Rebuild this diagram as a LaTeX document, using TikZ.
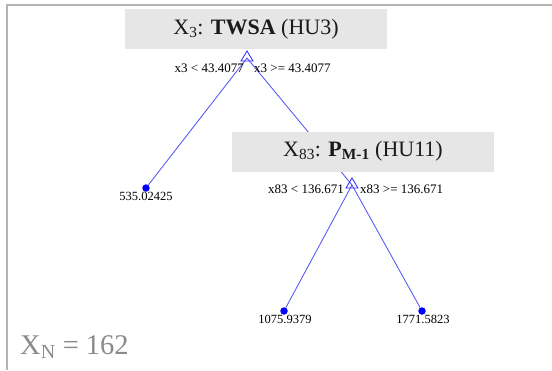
\documentclass[tikz,border=0pt]{standalone}
\usepackage{fontspec}
\setmainfont{Liberation Serif}
\definecolor{boxgray}{HTML}{E6E6E6}
\definecolor{edgeblue}{HTML}{5555F5}
\definecolor{framegray}{HTML}{B4B4B4}
\definecolor{ngray}{HTML}{8A8A8A}
\definecolor{titleblack}{HTML}{1A1A1A}
\begin{document}
\begin{tikzpicture}[x=1pt,y=-1pt,
  splitbox/.style={fill=boxgray, draw=none, minimum width=262pt, minimum height=40pt, inner sep=0pt, text=titleblack, font=\fontsize{22}{24}\selectfont},
  edge/.style={draw=edgeblue, line width=0.85pt},
  leaf/.style={circle, fill=blue, minimum size=7.5pt, inner sep=0pt},
  cond/.style={font=\fontsize{13}{15}\selectfont, inner sep=0pt},
  val/.style={font=\fontsize{12.5}{14}\selectfont, inner sep=0pt},
  tri/.style={draw=blue!85!white, line width=0.8pt, line join=miter}]
\useasboundingbox (0,0) rectangle (552,370);
% frame
\draw[framegray, line width=1.5pt] (7,370) -- (7,5) -- (552,5);
% split points and leaves
\coordinate (s1) at (247,58);
\coordinate (s2) at (352,185);
\node[leaf] (l1) at (146,188) {};
\node[leaf] (l2) at (284,311) {};
\node[leaf] (l3) at (422,311) {};
% connectors
\draw[edge] (s1) -- (l1);
\draw[edge] (s1) -- (s2);
\draw[edge] (s2) -- (l2);
\draw[edge] (s2) -- (l3);
% split boxes
\node[splitbox] (n1) at (256,29) {X\textsubscript{3}: \textbf{TWSA} (HU3)};
\node[splitbox] (n2) at (363,151.5) {X\textsubscript{83}: \textbf{P\textsubscript{M-1}} (HU11)};
% split triangles
\draw[tri] (s1) ++(0,-7) -- ++(-6,10) -- ++(12,0) -- cycle;
\draw[tri] (s2) ++(0,-7) -- ++(-6,10) -- ++(12,0) -- cycle;
% conditions
\node[cond, anchor=east] (c1l) at (244,68) {x3 < 43.4077};
\node[cond, anchor=west] (c1r) at (254,68) {x3 >= 43.4077};
\node[cond, anchor=east] (c2l) at (344,189) {x83 < 136.671};
\node[cond, anchor=west] (c2r) at (360,189) {x83 >= 136.671};
% leaf values
\node[val] (v1) at (146,196) {535.02425};
\node[val] (v2) at (285,319) {1075.9379};
\node[val] (v3) at (423,319) {1771.5823};
% sample count
\node[anchor=base west, text=ngray, font=\fontsize{28.5}{30}\selectfont, inner sep=0pt] (xn) at (20,354) {X\textsubscript{N} = 162};
\end{tikzpicture}
\end{document}
